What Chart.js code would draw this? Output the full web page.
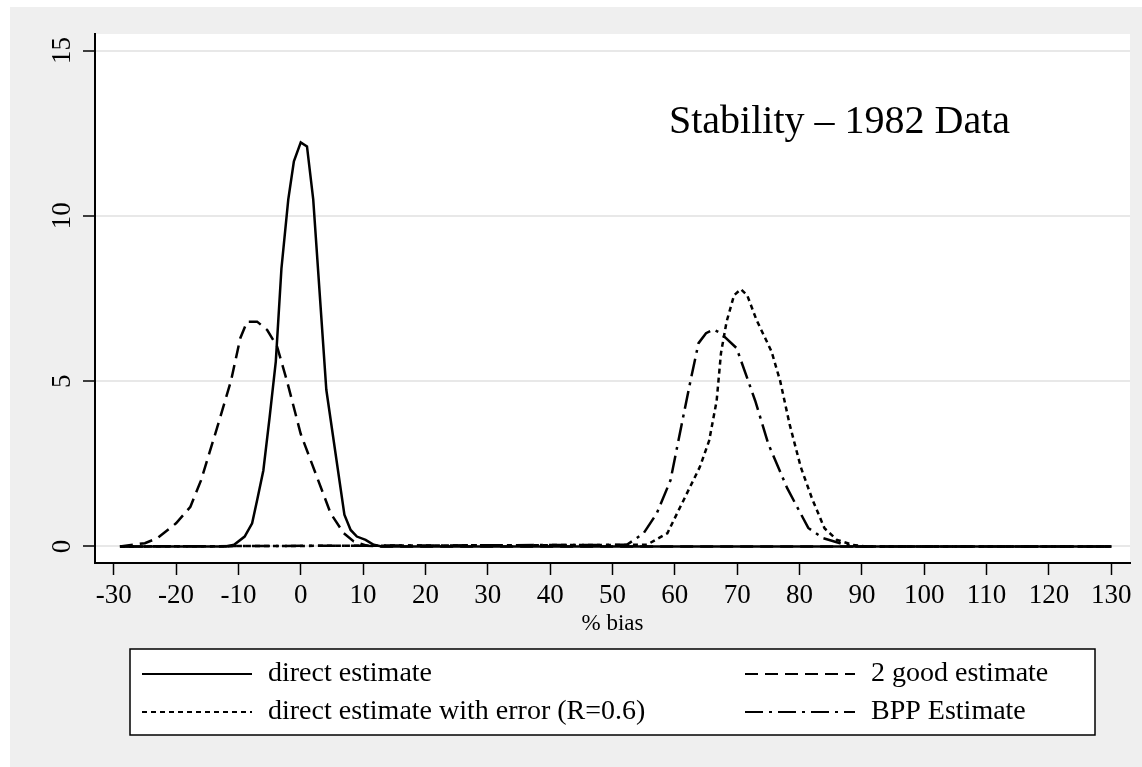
<!DOCTYPE html>
<html>
<head>
<meta charset="utf-8">
<script src="https://cdn.jsdelivr.net/npm/chart.js@4.4.0/dist/chart.umd.min.js"></script>
<style>
  html, body { margin: 0; padding: 0; background: #fff; }
  #wrap { width: 1142px; height: 767px; }
</style>
</head>
<body>
<div id="wrap"><canvas id="myChart" width="1142" height="767"></canvas></div>
<script>
// tick labels
const xTicks = [-30, -20, -10, 0, 10, 20, 30, 40, 50, 60, 70, 80, 90, 100, 110, 120, 130];
const yTicks = [0, 5, 10, 15];

// direct estimate (solid)
const directX = [-29, -12, -10.7, -9, -7.8, -7, -6, -5, -4, -3.1, -2, -1.1, 0, 1, 2, 4.1, 7, 8, 9, 10.4, 11.7, 13, 130];
const directY = [0, 0, 0.05, 0.3, 0.7, 1.4, 2.3, 3.9, 5.6, 8.4, 10.5, 11.65, 12.22, 12.1, 10.5, 4.74, 0.96, 0.5, 0.3, 0.2, 0.05, 0, 0];

// 2 good estimate (dashed)
const goodX = [-29, -25, -23, -20, -17.7, -16, -13.4, -11.2, -9.7, -8.6, -7, -5.4, -3.8, -2.2, 0, 2.6, 4.8, 6.9, 8.5, 10.6, 13, 130];
const goodY = [0, 0.1, 0.25, 0.7, 1.2, 2.0, 3.6, 5.0, 6.3, 6.8, 6.8, 6.55, 6.05, 5.0, 3.4, 2.1, 1.0, 0.4, 0.15, 0.02, 0, 0];

// direct estimate with error (dotted)
const errorX = [-29, 55.5, 58.8, 61.4, 64, 65.5, 66.7, 67.4, 68.3, 69.5, 70.6, 71.6, 73.1, 75.5, 76.9, 78.4, 80.2, 82, 84, 86, 88.5, 90.6, 130];
const errorY = [0, 0.05, 0.4, 1.4, 2.4, 3.2, 4.4, 5.85, 6.8, 7.6, 7.78, 7.6, 6.85, 5.9, 5.0, 3.7, 2.4, 1.45, 0.55, 0.2, 0.05, 0, 0];

// BPP estimate (dash-dot)
const bppX = [-29, 52.3, 55, 57.1, 59.3, 61.1, 62.5, 63.8, 65, 66.2, 67.3, 69.9, 72.9, 75, 78, 81.4, 83.8, 86.5, 89, 130];
const bppY = [0, 0.05, 0.4, 1.0, 2.0, 3.7, 5.0, 6.15, 6.45, 6.56, 6.46, 6.0, 4.4, 3.1, 1.77, 0.56, 0.25, 0.1, 0, 0];

const serif = "'Liberation Serif', 'Times New Roman', serif";

function toPoints(xs, ys) {
  return xs.map((x, i) => ({ x: x, y: ys[i] }));
}

function lineSet(label, xs, ys, dash) {
  return {
    label: label,
    data: toPoints(xs, ys),
    borderColor: '#000',
    borderWidth: 2.5,
    borderDash: dash,
    pointRadius: 0,
    tension: 0,
    fill: false
  };
}

// gray page, white plot region
const background = {
  id: 'background',
  beforeDraw(chart) {
    const ctx = chart.ctx;
    const a = chart.chartArea;
    ctx.save();
    ctx.fillStyle = '#efefef';
    ctx.fillRect(10, 7, chart.width - 10, chart.height - 7);
    ctx.fillStyle = '#fff';
    ctx.fillRect(a.left, a.top, a.right - a.left, a.bottom - a.top);
    ctx.restore();
  }
};

// legend box + note text
const extras = {
  id: 'extras',
  afterDraw(chart) {
    const ctx = chart.ctx;
    ctx.save();
    ctx.fillStyle = '#fff';
    ctx.fillRect(130, 649, 965, 86);
    ctx.strokeStyle = '#000';
    ctx.lineWidth = 1.5;
    ctx.strokeRect(130, 649, 965, 86);

    const colX = [142, 745];
    const rowY = [674, 712];
    ctx.font = '28px ' + serif;
    ctx.textBaseline = 'middle';
    chart.data.datasets.forEach((ds, i) => {
      const x0 = colX[i % 2];
      const y0 = rowY[Math.floor(i / 2)];
      ctx.beginPath();
      ctx.setLineDash(ds.borderDash);
      ctx.lineWidth = 2;
      ctx.moveTo(x0, y0);
      ctx.lineTo(x0 + 110, y0);
      ctx.stroke();
      ctx.setLineDash([]);
      ctx.fillStyle = '#000';
      ctx.fillText(ds.label, x0 + 126, y0);
    });

    ctx.font = '40px ' + serif;
    ctx.textBaseline = 'alphabetic';
    ctx.fillText('Stability \u2013 1982 Data', 669, 133);
    ctx.restore();
  }
};

const ctx = document.getElementById('myChart').getContext('2d');
const myChart = new Chart(ctx, {
  type: 'line',
  data: {
    datasets: [
      lineSet('direct estimate', directX, directY, []),
      lineSet('2 good estimate', goodX, goodY, [13, 7]),
      lineSet('direct estimate with error (R=0.6)', errorX, errorY, [5, 4]),
      lineSet('BPP Estimate', bppX, bppY, [18, 6, 3, 6])
    ]
  },
  options: {
    responsive: false,
    animation: false,
    devicePixelRatio: 1,
    layout: { padding: { left: 0, top: 34, right: 12, bottom: 129 } },
    plugins: {
      legend: { display: false },
      tooltip: { enabled: false }
    },
    scales: {
      x: {
        type: 'linear',
        min: -33,
        max: 133,
        afterBuildTicks: (s) => { s.ticks = xTicks.map((v) => ({ value: v })); },
        afterFit: (s) => { s.height = 75; },
        border: { display: true, color: '#000', width: 2 },
        grid: { drawOnChartArea: false, drawTicks: true, tickLength: 12, tickColor: '#000', tickWidth: 1.5 },
        ticks: { color: '#000', font: { family: serif, size: 27 }, padding: 5, maxRotation: 0 },
        title: { display: true, text: '% bias', color: '#000', font: { family: serif, size: 23 }, padding: { top: 0, bottom: 0 } }
      },
      y: {
        min: -0.5,
        max: 15.5,
        afterBuildTicks: (s) => { s.ticks = yTicks.map((v) => ({ value: v })); },
        afterFit: (s) => { s.width = 95; },
        border: { display: true, color: '#000', width: 2 },
        grid: { color: '#e8e8e8', lineWidth: 2, drawTicks: true, tickLength: 12, tickColor: '#000', tickWidth: 1.5 },
        ticks: { color: '#000', font: { family: serif, size: 27 }, padding: 7, minRotation: 90, maxRotation: 90, crossAlign: 'center' }
      }
    }
  },
  plugins: [background, extras]
});
</script>
</body>
</html>
